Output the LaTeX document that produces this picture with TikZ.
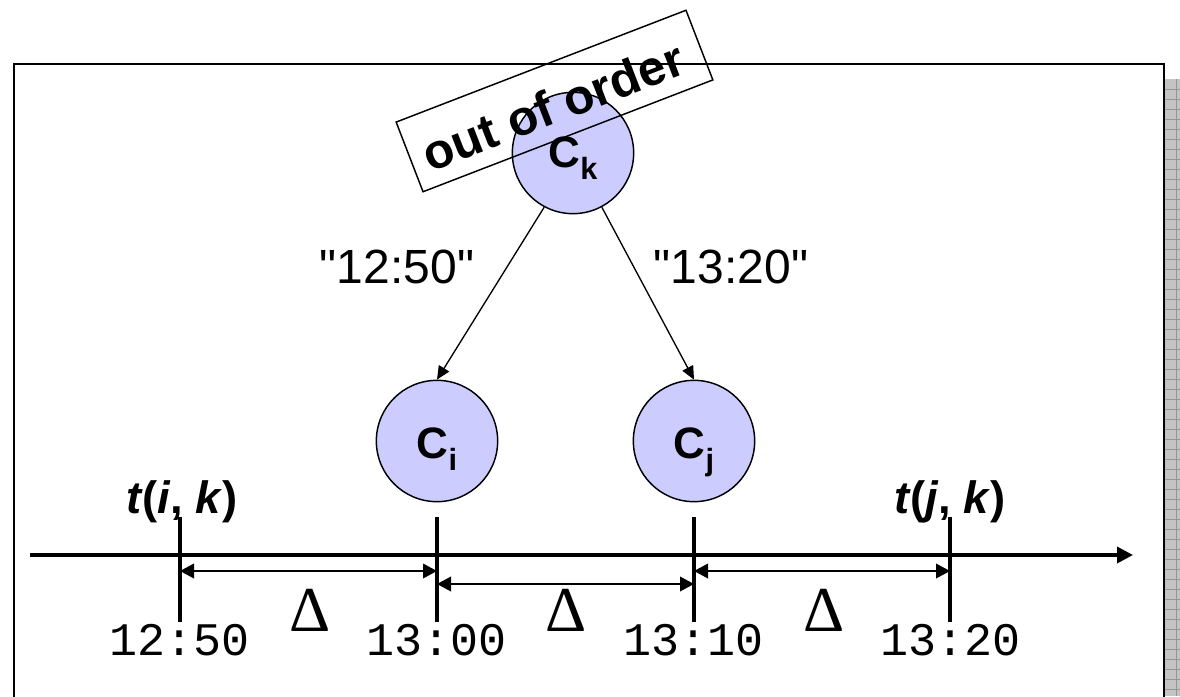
\documentclass[tikz,border=0pt]{standalone}
\usepackage{fontspec}
\setmainfont{Liberation Sans}
\newfontfamily\monof{Liberation Mono}
\newfontfamily\serf{Liberation Serif}
\newfontfamily\qfont{Liberation Sans}[Ligatures=TeXOff]
\usetikzlibrary{arrows.meta}
\definecolor{lav}{RGB}{204,204,255}
\definecolor{shadowgray}{RGB}{196,196,196}
\definecolor{gridgray}{RGB}{150,150,150}
\newcommand\subtx[1]{\raisebox{-9pt}{\fontsize{23}{23}\selectfont #1}}
\begin{document}
\begin{tikzpicture}[x=0.75pt,y=-0.75pt,
  proc/.style={circle,draw,line width=1.1pt,fill=lav,minimum size=91pt,inner sep=0pt},
  clabel/.style={font=\bfseries\fontsize{33}{33}\selectfont,inner sep=0pt,anchor=base},
  edge/.style={line width=1pt,-{Triangle[length=10pt,width=9pt]}},
  elab/.style={font=\qfont\fontsize{36}{36}\selectfont,inner sep=0pt,anchor=base},
  tlab/.style={font=\monof\fontsize{35}{35}\selectfont,inner sep=0pt,anchor=base},
  dlab/.style={font=\serf\fontsize{48}{48}\selectfont,inner sep=0pt,anchor=base},
  tik/.style={font=\bfseries\fontsize{34}{34}\selectfont,inner sep=0pt,anchor=base},
  axisline/.style={line width=2.6pt,-{Triangle[length=12pt,width=12pt]}},
  tickline/.style={line width=2.3pt},
  dim/.style={line width=1.1pt,{Triangle[length=10.5pt,width=11pt]}-{Triangle[length=10.5pt,width=11pt]}},
  frame/.style={line width=1.9pt},
  oobox/.style={draw,line width=1.1pt,minimum width=233pt,minimum height=56pt,inner sep=0pt,rotate=21.1},
  ootext/.style={font=\bfseries\fontsize{37}{37}\selectfont,inner sep=0pt,rotate=21.1}
]
\useasboundingbox (0,0) rectangle (1180,696);
\fill[white] (0,0) rectangle (1180,696);
% shadow
\begin{scope}
\clip (1165,79) rectangle (1180,696);
\fill[shadowgray] (1165,79) rectangle (1180,696);
\foreach \yy in {89,99,...,696} {\draw[gridgray,line width=0.5pt] (1165,\yy) -- (1180,\yy);}
\draw[gridgray,line width=0.5pt] (1176,79) -- (1176,696);
\end{scope}
% frame
\draw[frame] (14,700) -- (14,64) -- (1164,64) -- (1164,700);
% circles
\node[proc] (Ck) at (573,153) {};
\node[proc] (Ci) at (437,441) {};
\node[proc] (Cj) at (694,441) {};
\node[clabel] (Ckl) at (573,167) {C\subtx{k}};
\node[clabel] (Cil) at (437,458) {C\subtx{i}};
\node[clabel] (Cjl) at (694,458) {C\subtx{j}};
% out of order box
\node[oobox] (ooo) at (554.5,101) {};
\node[ootext] (ootxt) at (553,106) {out of order};
% edges
\draw[edge] (Ck.242) -- (Ci.north);
\draw[edge] (Ck.298) -- (Cj.north);
\node[elab] (e1) at (397,283) {"12:50"};
\node[elab] (e2) at (731,283) {"13:20"};
% timeline
\coordinate (ax0) at (30,555);
\coordinate (ax1) at (1133,555);
\draw[axisline] (ax0) -- (ax1);
\coordinate (t1) at (180,555);
\coordinate (t2) at (437,555);
\coordinate (t3) at (694,555);
\coordinate (t4) at (950,555);
\draw[tickline] (180,517) -- (180,622);
\draw[tickline] (437,517) -- (437,622);
\draw[tickline] (694,517) -- (694,622);
\draw[tickline] (950,517) -- (950,622);
\draw[dim] ([yshift=-12pt]t1) -- ([yshift=-12pt]t2);
\draw[dim] ([yshift=-21.75pt]t2) -- ([yshift=-21.75pt]t3);
\draw[dim] ([yshift=-12pt]t3) -- ([yshift=-12pt]t4);
% labels
\node[tlab] (l1) at (180,655) {12:50};
\node[tlab] (l2) at (437,655) {13:00};
\node[tlab] (l3) at (694,655) {13:10};
\node[tlab] (l4) at (950,655) {13:20};
\node[dlab] (d1) at (310,631) {Δ};
\node[dlab] (d2) at (566,631) {Δ};
\node[dlab] (d3) at (824,631) {Δ};
\node[tik] (tik) at (182,513) {\textit{t}(\textit{i}, \textit{k})};
\node[tik] (tjk) at (950,513) {\textit{t}(\textit{j}, \textit{k})};
\end{tikzpicture}
\end{document}
